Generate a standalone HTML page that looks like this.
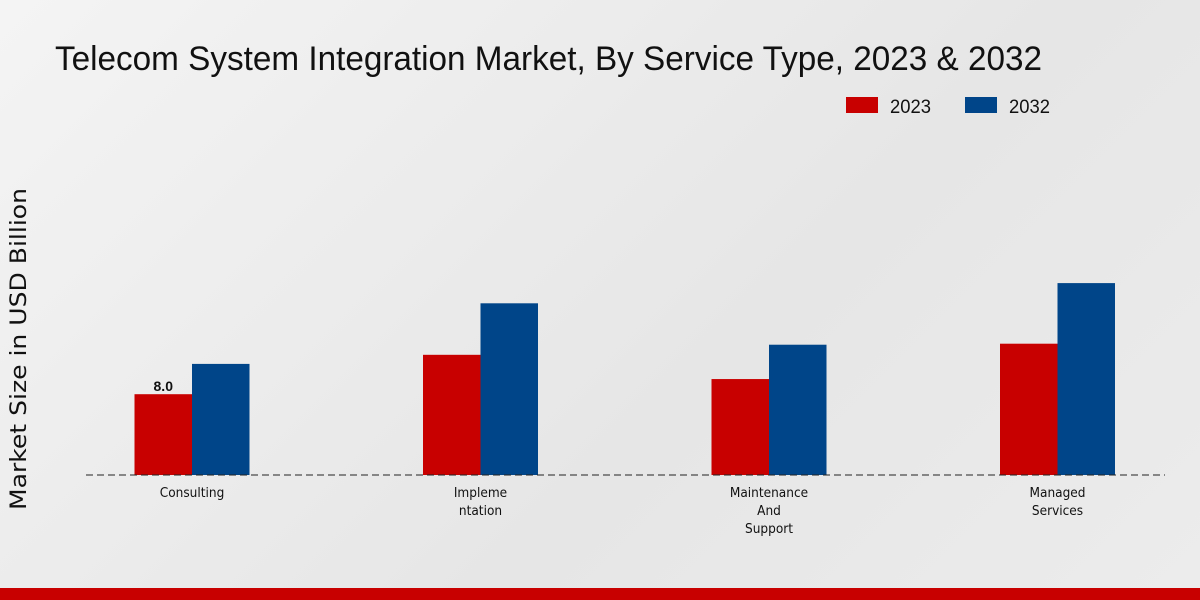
<!DOCTYPE html>
<html><head><meta charset="utf-8"><style>
html,body{margin:0;padding:0;width:1200px;height:600px;overflow:hidden}
body{background:linear-gradient(135deg,#f4f4f4 0%,#e6e6e6 60%,#ececec 100%);font-family:"Liberation Sans",sans-serif}
</style></head><body>
<svg id="chart" width="1200" height="600" xmlns="http://www.w3.org/2000/svg" font-family="Liberation Sans, sans-serif">
<text x="55" y="70" font-size="34" fill="#111" textLength="987" lengthAdjust="spacingAndGlyphs">Telecom System Integration Market, By Service Type, 2023 &amp; 2032</text>
<g>
<rect x="846" y="97" width="32" height="16" fill="#c80000"/>
<text x="890" y="113" font-size="19" fill="#111" textLength="41" lengthAdjust="spacingAndGlyphs">2023</text>
<rect x="965" y="97" width="32" height="16" fill="#004589"/>
<text x="1009" y="113" font-size="19" fill="#111" textLength="41" lengthAdjust="spacingAndGlyphs">2032</text>
</g>
<text transform="translate(26,349) rotate(-90)" text-anchor="middle" font-family="DejaVu Sans, sans-serif" font-size="22" fill="#111" textLength="322" lengthAdjust="spacingAndGlyphs">Market Size in USD Billion</text>
<g id="bars"></g>
<line x1="86" y1="475" x2="1165" y2="475" stroke="#222" stroke-width="1" stroke-dasharray="7,4"/>
<g id="labels"></g>
<rect x="0" y="588" width="1200" height="12" fill="#c80000"/>
</svg>
<script>
const categories=[["Consulting"],["Impleme","ntation"],["Maintenance","And","Support"],["Managed","Services"]];
const values2023=[8.0,11.9,9.5,13.0];
const values2032=[11.0,17.0,12.9,19.0];
const shownLabels=["8.0",null,null,null];
const NS="http://www.w3.org/2000/svg";
const base=475,pxPerUnit=10.1,x0=192,step=288.5,bw=57.5;
function y(v){return base-v*pxPerUnit;}
function cx(i){return x0+i*step;}
const bars=document.getElementById('bars'),labels=document.getElementById('labels');
function mk(t,a){const e=document.createElementNS(NS,t);for(const k in a)e.setAttribute(k,a[k]);return e;}
categories.forEach((c,i)=>{
  const r1=mk('rect',{x:cx(i)-bw,y:y(values2023[i]),width:bw,height:base-y(values2023[i]),fill:'#c80000'});
  
  
  bars.appendChild(r1);
  const r2=mk('rect',{x:cx(i),y:y(values2032[i]),width:bw,height:base-y(values2032[i]),fill:'#004589'});
  
  
  bars.appendChild(r2);
  if(shownLabels[i]){
    const t=mk('text',{x:cx(i)-bw/2,y:y(values2023[i])-3,'text-anchor':'middle','font-size':14,'font-weight':'bold',fill:'#111'});
    t.textContent=shownLabels[i];
    
    
    bars.appendChild(t);
  }
  c.forEach((line,j)=>{
    const t=mk('text',{x:cx(i),y:497+j*18,'text-anchor':'middle','font-size':13.5,'font-family':'DejaVu Sans Condensed, Liberation Sans Narrow, Liberation Sans, sans-serif',fill:'#111'});
    t.textContent=line;
    
    
    labels.appendChild(t);
  });
});
</script>
</body></html>
